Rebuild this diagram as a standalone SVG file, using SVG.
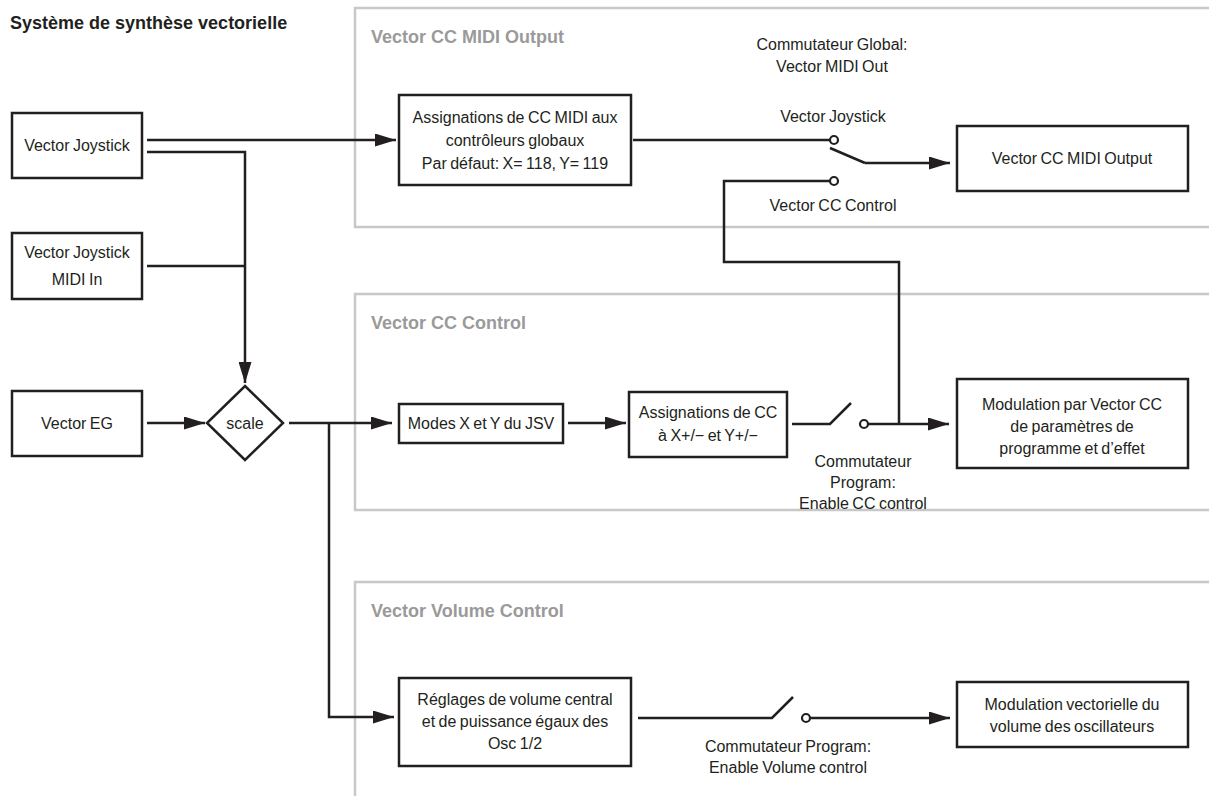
<svg xmlns="http://www.w3.org/2000/svg" width="1209" height="796" viewBox="0 0 1209 796">
<style>
.panel{fill:none;stroke:#c8c8c8;stroke-width:2.5}
.plabel{font-family:"Liberation Sans",Arial,sans-serif;font-size:18px;font-weight:bold;fill:#9a9a9a}
.title{font-family:"Liberation Sans",Arial,sans-serif;font-size:18px;font-weight:bold;fill:#231f20}
.box{fill:#fff;stroke:#231f20;stroke-width:2.5}
.t{font-family:"Liberation Sans",Arial,sans-serif;font-size:16px;fill:#231f20;text-anchor:middle;word-spacing:-1px}
.w{fill:none;stroke:#231f20;stroke-width:2.5}
.a{marker-end:url(#ah)}
.c{fill:#fff;stroke:#231f20;stroke-width:2.2}
</style>
<defs>
<marker id="ah" markerUnits="userSpaceOnUse" markerWidth="21" markerHeight="13" refX="21" refY="6.5" orient="auto">
<path d="M0,0 L21,6.5 L0,13 z" fill="#231f20"/>
</marker>
</defs>
<rect width="1209" height="796" fill="#fff"/>
<text class="title" x="10" y="29">Système de synthèse vectorielle</text>

<g id="panel-midi-output">
<rect class="panel" x="355" y="8" width="900" height="219"/>
<text class="plabel" x="371" y="43">Vector CC MIDI Output</text>
</g>
<g id="panel-cc-control">
<rect class="panel" x="355" y="294" width="900" height="216"/>
<text class="plabel" x="371" y="329">Vector CC Control</text>
</g>
<g id="panel-volume">
<rect class="panel" x="355" y="582" width="900" height="260"/>
<text class="plabel" x="371" y="617">Vector Volume Control</text>
</g>

<g id="connectors">
<path class="w a" d="M147,140 H396"/>
<path class="w a" d="M147,152 H245 V383"/>
<path class="w" d="M147,266 H245"/>
<path class="w a" d="M147,423 H205"/>
<path class="w a" d="M289,423 H392"/>
<path class="w a" d="M329,423 V717 H394"/>
<path class="w" d="M633,140 H830"/>
<path class="w" d="M830,148 L865,163"/>
<path class="w a" d="M865,163 H950"/>
<path class="w" d="M830,181 H724 V262 H899 V424"/>
<path class="w a" d="M568,423 H626"/>
<path class="w" d="M792,424 H830 L851,403"/>
<path class="w a" d="M868,424 H949"/>
<path class="w" d="M638,718 H772 L793,697"/>
<path class="w a" d="M810,718 H950"/>
<circle class="c" cx="834" cy="140" r="4"/>
<circle class="c" cx="834" cy="181" r="4"/>
<circle class="c" cx="864" cy="424" r="4"/>
<circle class="c" cx="806" cy="718" r="4"/>
<text class="t" x="832" y="50">Commutateur Global:</text>
<text class="t" x="832" y="72">Vector MIDI Out</text>
<text class="t" x="833" y="122">Vector Joystick</text>
<text class="t" x="833" y="211">Vector CC Control</text>
<text class="t" x="863" y="467">Commutateur</text>
<text class="t" x="863" y="488">Program:</text>
<text class="t" x="863" y="509">Enable CC control</text>
<text class="t" x="788" y="752">Commutateur Program:</text>
<text class="t" x="788" y="773">Enable Volume control</text>
</g>

<g id="vector-joystick">
<rect class="box" x="12" y="113" width="130" height="65"/>
<text class="t" x="77" y="151">Vector Joystick</text>
</g>
<g id="vector-joystick-midi-in">
<rect class="box" x="12" y="233" width="130" height="66"/>
<text class="t" x="77" y="258">Vector Joystick</text>
<text class="t" x="77" y="285">MIDI In</text>
</g>
<g id="vector-eg">
<rect class="box" x="12" y="391" width="130" height="65"/>
<text class="t" x="77" y="429">Vector EG</text>
</g>
<g id="scale">
<path class="box" d="M245,386 L283,423 L245,460 L207,423 z"/>
<text class="t" x="245" y="429">scale</text>
</g>
<g id="cc-midi-assign">
<rect class="box" x="399" y="95" width="232" height="90"/>
<text class="t" x="515" y="123">Assignations de CC MIDI aux</text>
<text class="t" x="515" y="146">contrôleurs globaux</text>
<text class="t" x="515" y="169">Par défaut: X= 118, Y= 119</text>
</g>
<g id="vector-cc-midi-output">
<rect class="box" x="957" y="126" width="231" height="65"/>
<text class="t" x="1072" y="164">Vector CC MIDI Output</text>
</g>
<g id="modes-xy">
<rect class="box" x="399" y="404" width="164" height="39"/>
<text class="t" x="481" y="429">Modes X et Y du JSV</text>
</g>
<g id="cc-assign">
<rect class="box" x="629" y="392" width="158" height="65"/>
<text class="t" x="708" y="418">Assignations de CC</text>
<text class="t" x="708" y="441">à X+/− et Y+/−</text>
</g>
<g id="modulation-cc">
<rect class="box" x="957" y="379" width="231" height="89"/>
<text class="t" x="1072" y="410">Modulation par Vector CC</text>
<text class="t" x="1072" y="432">de paramètres de</text>
<text class="t" x="1072" y="454">programme et d’effet</text>
</g>
<g id="volume-settings">
<rect class="box" x="399" y="678" width="232" height="88"/>
<text class="t" x="515" y="705">Réglages de volume central</text>
<text class="t" x="515" y="727">et de puissance égaux des</text>
<text class="t" x="515" y="749">Osc 1/2</text>
</g>
<g id="volume-modulation">
<rect class="box" x="957" y="682" width="231" height="65"/>
<text class="t" x="1072" y="710">Modulation vectorielle du</text>
<text class="t" x="1072" y="732">volume des oscillateurs</text>
</g>
</svg>
